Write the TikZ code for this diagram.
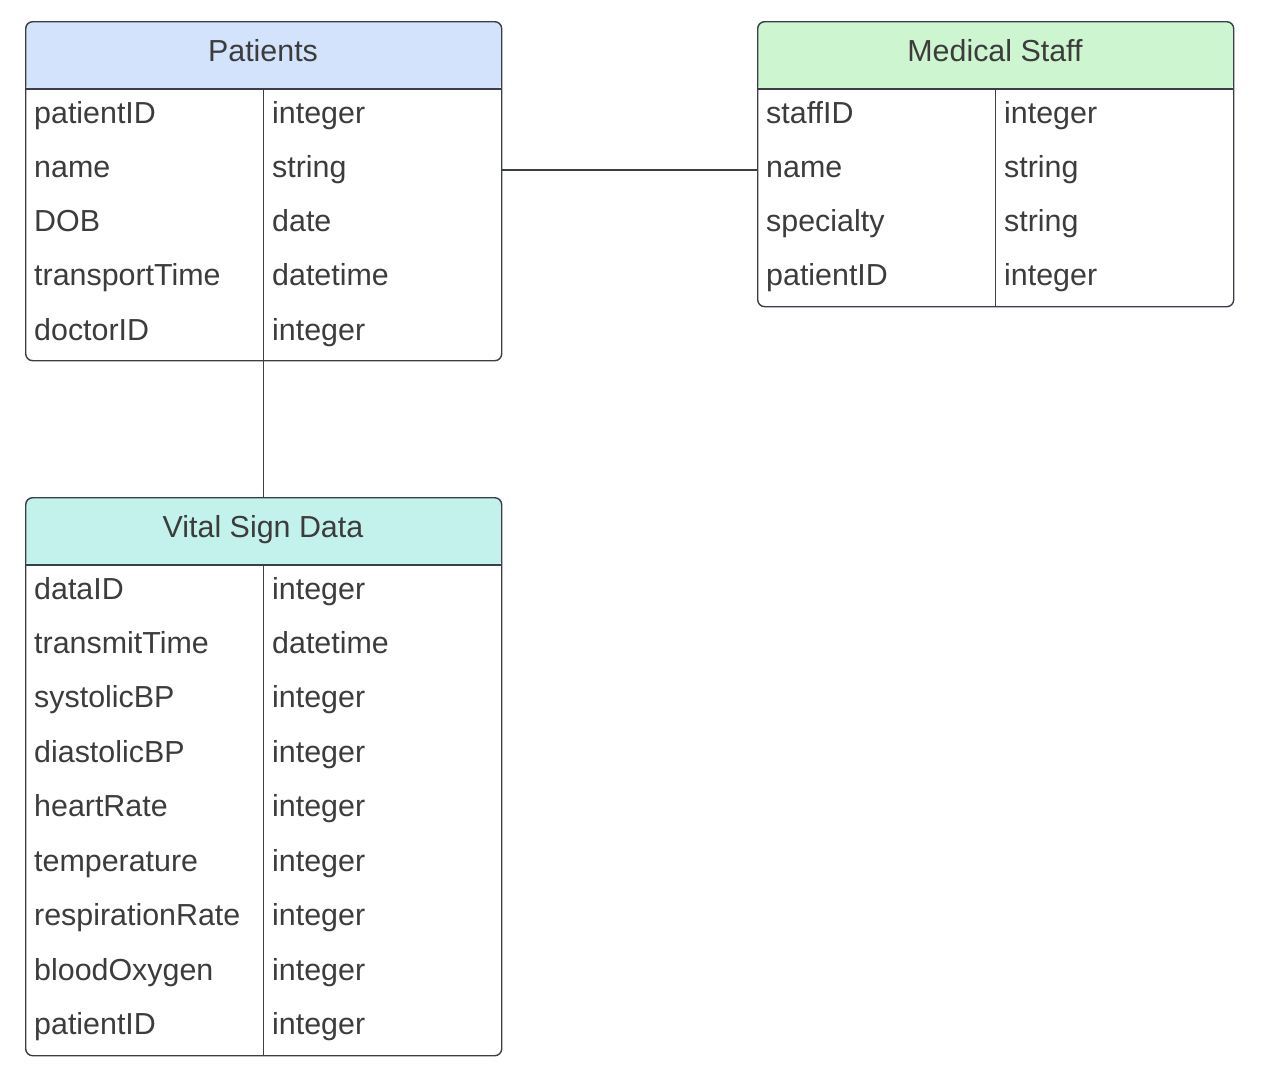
\documentclass[tikz,border=0pt]{standalone}
\usepackage{fontspec}
\setmainfont{Liberation Sans}
\definecolor{edge}{HTML}{3A3E46}
\definecolor{txt}{HTML}{3C3C3C}
\definecolor{patc}{HTML}{D4E3FC}
\definecolor{staffc}{HTML}{CDF5D0}
\definecolor{vitalc}{HTML}{C3F2EC}
\tikzset{
  tbl/.style={draw=edge, line width=1.4pt, rounded corners=7pt, fill=white, inner sep=0pt,
    minimum width=476pt, anchor=north west},
  hdrfill/.style={path picture={\fill[#1] (path picture bounding box.north west) rectangle ([yshift=-68pt]path picture bounding box.north east);}},
  hdrtxt/.style={font=\fontsize{30.4}{36}\selectfont, text=txt, anchor=base, inner sep=0pt},
  cell/.style={font=\fontsize{30.4}{36}\selectfont, text=txt, anchor=base west, inner sep=0pt},
  rule/.style={draw=edge, line width=1.4pt},
  link/.style={draw=edge, line width=1.4pt}
}
\begin{document}
\begin{tikzpicture}[x=1pt,y=-1pt]
\useasboundingbox (0,0) rectangle (1262,1076);
% Patients
\node[tbl, minimum height=339pt, hdrfill=patc] (pat) at (25,21) {};
\draw[rule] ([yshift=-68pt]pat.north west) -- ([yshift=-68pt]pat.north east);
\draw[rule] ([yshift=-68pt]pat.north) -- (pat.south);
\node[hdrtxt] (patH) at (263,61) {Patients};
\foreach \a/\b [count=\i] in {patientID/integer, name/string, DOB/date, transportTime/datetime, doctorID/integer} {
  \node[cell] (pat-a\i) at (34,{123+54.3*(\i-1)}) {\a};
  \node[cell] (pat-b\i) at (272,{123+54.3*(\i-1)}) {\b};
}
% Medical Staff
\node[tbl, minimum height=285pt, hdrfill=staffc] (staff) at (757,21) {};
\draw[rule] ([yshift=-68pt]staff.north west) -- ([yshift=-68pt]staff.north east);
\draw[rule] ([yshift=-68pt]staff.north) -- (staff.south);
\node[hdrtxt] (staffH) at (995,61) {Medical Staff};
\foreach \a/\b [count=\i] in {staffID/integer, name/string, specialty/string, patientID/integer} {
  \node[cell] (staff-a\i) at (766,{123+54.3*(\i-1)}) {\a};
  \node[cell] (staff-b\i) at (1004,{123+54.3*(\i-1)}) {\b};
}
% Vital Sign Data
\node[tbl, minimum height=558pt, hdrfill=vitalc] (vital) at (25,497) {};
\draw[rule] ([yshift=-68pt]vital.north west) -- ([yshift=-68pt]vital.north east);
\draw[rule] ([yshift=-68pt]vital.north) -- (vital.south);
\node[hdrtxt] (vitalH) at (263,537) {Vital Sign Data};
\foreach \a/\b [count=\i] in {dataID/integer, transmitTime/datetime, systolicBP/integer, diastolicBP/integer, heartRate/integer, temperature/integer, respirationRate/integer, bloodOxygen/integer, patientID/integer} {
  \node[cell] (vital-a\i) at (34,{599+54.45*(\i-1)}) {\a};
  \node[cell] (vital-b\i) at (272,{599+54.45*(\i-1)}) {\b};
}
% connectors
\coordinate (patrow2) at (263,170);
\draw[link] (pat.east |- patrow2) -- (staff.west |- patrow2);
\draw[link] (pat.south) -- (vital.north);
\end{tikzpicture}
\end{document}
